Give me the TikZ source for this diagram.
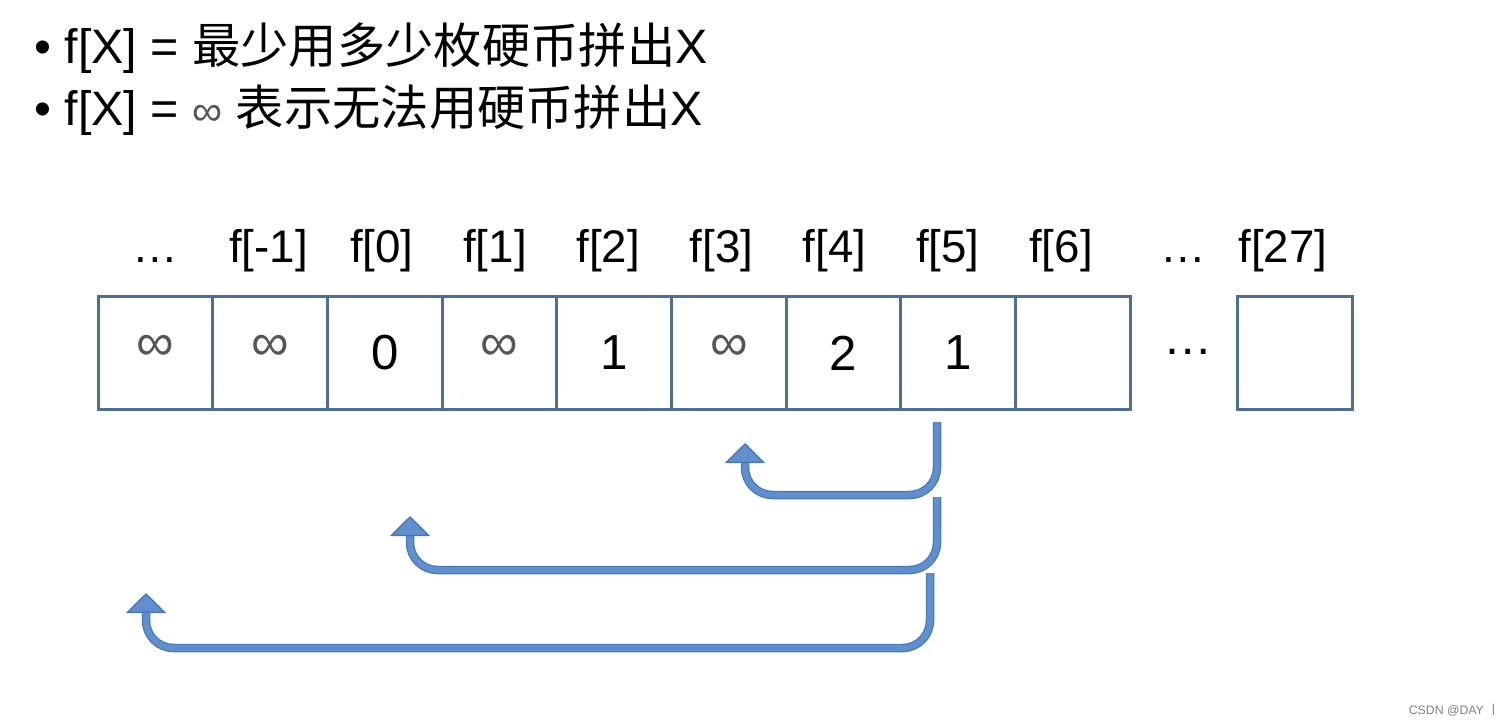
\documentclass[tikz,border=0pt]{standalone}
\usepackage{fontspec}
\setmainfont{Liberation Sans}
\newfontfamily\cjk{Noto Sans CJK SC}
\usetikzlibrary{arrows.meta, positioning}

\definecolor{celledge}{HTML}{4F6E96}
\definecolor{arrowfill}{HTML}{5E8FCF}
\definecolor{arrowedge}{HTML}{4A78B5}
\definecolor{infgray}{HTML}{555555}

\begin{document}
\begin{tikzpicture}[
    x=0.02cm, y=-0.02cm,
    cell/.style={rectangle, draw=celledge, line width=0.06cm, fill=white,
        minimum width=2.294cm, minimum height=2.28cm, inner sep=0pt},
    flabel/.style={font=\fontsize{26}{30}\selectfont, inner sep=0pt, anchor=base},
    num/.style={font=\fontsize{28}{32}\selectfont, text=black},
    inf/.style={font=\fontsize{30}{34}\selectfont, text=infgray, yshift=0.1cm},
    title/.style={anchor=west, font=\fontsize{27.5}{34}\selectfont, inner sep=0pt},
    backarrow/.style={draw=arrowfill, line width=0.12cm, rounded corners=0.55cm,
        -{Triangle[width=0.8cm, length=0.4cm, line width=0.8pt, color=arrowedge, fill=arrowfill]},
        preaction={draw=arrowedge, line width=0.17cm, -, shorten >=0.3cm}}
]
\useasboundingbox (0,0) rectangle (1510,724);
\fill[white] (0,0) rectangle (1510,724);

% 标题
\node[title] (line1) at (34,48) {• f[X] = {\cjk 最少用多少枚硬币拼出}X};
\node[title] (line2) at (34,110) {• f[X] = {\color{infgray}\fontsize{24}{28}\selectfont ∞} {\cjk 表示无法用硬币拼出}X};

% 数组格子
\foreach \i/\lab/\sty/\val in {0/…/inf/∞, 1/f[-1]/inf/∞, 2/f[0]/num/0, 3/f[1]/inf/∞,
    4/f[2]/num/1, 5/f[3]/inf/∞, 6/f[4]/num/2, 7/f[5]/num/1, 8/f[6]/num/{}} {
    \node[cell] (c\i) at ({155.4+114.7*\i},353) {};
    \node[\sty] at (c\i) {\val};
    \node[flabel] (l\i) at ({155.4+113.2*\i},262) {\lab};
}
\node[cell] (clast) at (1295,353) {};
\node[flabel] (llast) at (1283,262) {f[27]};
\node[flabel] (ldots) at (1183,262) {…};
\node[num] (cdots) at (1188,352) {…};

% 回退箭头
\coordinate (s1) at (937,422);
\coordinate (t1) at (745,443);
\coordinate (s2) at (937,497);
\coordinate (t2) at (410,516);
\coordinate (s3) at (930,573);
\coordinate (t3) at (146,593);
\draw[backarrow] (s1) -- (937,495) -- (745,495) -- (t1);
\draw[backarrow] (s2) -- (937,570) -- (410,570) -- (t2);
\draw[backarrow] (s3) -- (930,648) -- (146,648) -- (t3);

% 水印
\node[anchor=east, font=\fontsize{7}{8}\selectfont, text=gray, inner sep=0pt] (mark) at (1500,710) {CSDN @DAY {\cjk 丨}};

\end{tikzpicture}
\end{document}
